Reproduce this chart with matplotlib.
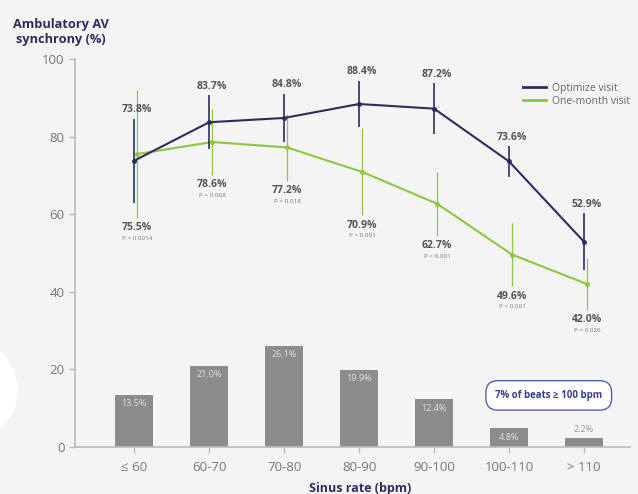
import numpy as np
import matplotlib.pyplot as plt
from matplotlib.patches import Ellipse
from matplotlib.lines import Line2D

plt.rcParams['font.family'] = ['Open Sans', 'DejaVu Sans']

# -- Data ----------------------------------------------------------------------
RATES = ['≤ 60', '60-70', '70-80', '80-90', '90-100', '100-110', '> 110']
BEATS = [13.5, 21.0, 26.1, 19.9, 12.4, 4.8, 2.2]

OPT_MEAN = [73.8, 83.7, 84.8, 88.4, 87.2, 73.6, 52.9]
OPT_ERR = [10.8, 7.0, 6.2, 6.0, 6.6, 3.9, 7.4]

MON_MEAN = [75.5, 78.6, 77.2, 70.9, 62.7, 49.6, 42.0]
MON_ERR = [16.4, 8.4, 8.6, 11.2, 8.2, 8.2, 6.6]
P_VALS = ['P = 0.0014', 'P = 0.068', 'P = 0.018', 'P < 0.001',
          'P < 0.001', 'P < 0.001', 'P = 0.026']

NAVY = '#2f2b5f'
GREEN = '#8dc63f'
BAR = '#8c8c8c'
BG = '#f4f4f4'
TXT = '#555555'

fig = plt.figure(figsize=(6.38, 4.94), dpi=100, facecolor=BG)
ax = fig.add_axes([0.1176, 0.0951, 0.8694, 0.7855], facecolor=BG)

# decorative white disc on the left edge
fig.patches.append(Ellipse((-35 / 638, 1 - 390 / 494), 104 / 638, 104 / 494,
                           transform=fig.transFigure, color='white', zorder=0))

x = np.arange(len(RATES))

# -- Bars ----------------------------------------------------------------------
ax.bar(x, BEATS, width=0.51, color=BAR, zorder=2)
for xi, v in zip(x, BEATS):
    if v > 4:
        ax.text(xi, v - 1.2, f'{v:.1f}%', ha='center', va='top',
                fontsize=6.5, color='#e2e2e2', zorder=3)
    else:
        ax.text(xi, v + 1.2, f'{v:.1f}%', ha='center', va='bottom',
                fontsize=6.5, color='#999999', zorder=3)

# -- Lines ---------------------------------------------------------------------
xg = x + 0.04
ax.errorbar(xg, MON_MEAN, yerr=MON_ERR, color=GREEN, lw=1.5, elinewidth=0.9,
            marker='o', ms=2.5, capsize=0, zorder=4)
ax.errorbar(x, OPT_MEAN, yerr=OPT_ERR, color=NAVY, lw=1.5, elinewidth=1.2,
            marker='o', ms=2.5, capsize=0, zorder=5)

for xi, m, e in zip(x, OPT_MEAN, OPT_ERR):
    ax.annotate(f'{m:.1f}%', xy=(xi + 0.04, m + e), xytext=(0, 2.5),
                textcoords='offset points', ha='center', va='bottom',
                fontsize=7.5, fontweight='bold', color=TXT, zorder=6)

for xi, m, e, p in zip(xg, MON_MEAN, MON_ERR, P_VALS):
    ax.annotate(f'{m:.1f}%', xy=(xi, m - e), xytext=(0, -3),
                textcoords='offset points', ha='center', va='top',
                fontsize=7.5, fontweight='bold', color=TXT, zorder=6)
    ax.annotate(p, xy=(xi, m - e), xytext=(0, -13),
                textcoords='offset points', ha='center', va='top',
                fontsize=4.5, color='#777777', zorder=6)

# -- Callout -------------------------------------------------------------------
ax.text(5.53, 13.3, '7% of beats ≥ 100 bpm', ha='center', va='center',
        fontsize=7, fontweight='bold', color='#3a3f8f', zorder=6,
        bbox=dict(boxstyle='round,pad=0.95,rounding_size=1.25', fc='white',
                  ec='#5060b0', lw=1.0))

# -- Axes ----------------------------------------------------------------------
handles = [Line2D([], [], color=NAVY, lw=2), Line2D([], [], color=GREEN, lw=2)]
leg = ax.legend(handles, ['Optimize visit', 'One-month visit'], loc='upper right',
                bbox_to_anchor=(1.018, 0.962), frameon=False, fontsize=7.5,
                handlelength=2.2, handletextpad=0.6, labelspacing=0.15)
for t in leg.get_texts():
    t.set_color('#666666')

ax.set_xlim(-0.79, 6.61)
ax.set_ylim(0, 100)
ax.set_xticks(x)
ax.set_xticklabels(RATES)
ax.set_yticks([0, 20, 40, 60, 80, 100])
ax.tick_params(axis='both', colors='#bbbbbb', labelcolor='#777777',
               labelsize=9.5, length=4, width=1)
ax.tick_params(axis='x', pad=6)
for s in ['top', 'right']:
    ax.spines[s].set_visible(False)
for s in ['left', 'bottom']:
    ax.spines[s].set_color('#bbbbbb')
    ax.spines[s].set_linewidth(1.2)

fig.text(0.096, 0.935, 'Ambulatory AV\nsynchrony (%)', ha='center', va='center',
         fontsize=9.2, fontweight='bold', color=NAVY, linespacing=1.15)
fig.text(0.565, 0.012, 'Sinus rate (bpm)', ha='center', va='center',
         fontsize=9, fontweight='bold', color=NAVY)

fig.savefig('out.png', dpi=100, facecolor=BG)
